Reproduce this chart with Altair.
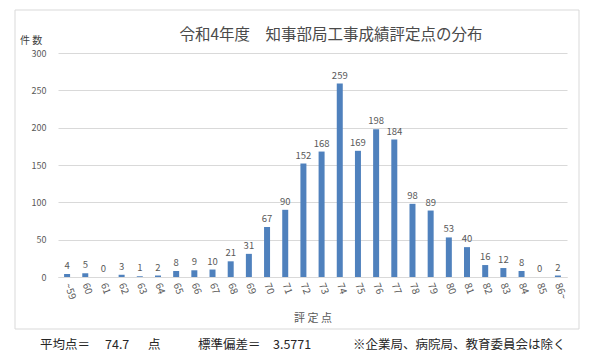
import altair as alt
import pandas as pd

categories = ["~59", "60", "61", "62", "63", "64", "65", "66", "67", "68", "69", "70",
              "71", "72", "73", "74", "75", "76", "77", "78", "79", "80", "81", "82",
              "83", "84", "85", "86~"]
counts = [4, 5, 0, 3, 1, 2, 8, 9, 10, 21, 31, 67, 90, 152, 168, 259, 169, 198, 184,
          98, 89, 53, 40, 16, 12, 8, 0, 2]
y_ticks = [0, 50, 100, 150, 200, 250, 300]

title_text = "令和4年度　知事部局工事成績評定点の分布"
y_title = "件 数"
x_title = "評 定 点"
footer_texts = ["平均点＝", "74.7", "点", "標準偏差＝", "3.5771",
                "※企業局、病院局、教育委員会は除く"]
footer_x = [-18, 47, 90, 140, 215, 295]

df = pd.DataFrame({"cat": categories, "n": counts})
FONT = "Noto Sans CJK JP"
GRAY = "#595959"

W, H = 509, 224
y_axis = alt.Axis(title=None, values=y_ticks, labelFontSize=9,
                  labelColor=GRAY, labelFont=FONT, domain=False, ticks=False,
                  gridColor="#d9d9d9", labelPadding=12)
x_axis = alt.Axis(title=x_title, labelAngle=70, labelAlign="left",
                  labelBaseline="middle", labelFontSize=10, labelColor=GRAY,
                  labelFont=FONT, titleFont=FONT, titleFontSize=11,
                  titleColor=GRAY, titleFontWeight="normal", titlePadding=12,
                  domainColor="#d9d9d9", ticks=False, labelPadding=6)
x_enc = alt.X("cat:N", sort=categories,
              scale=alt.Scale(paddingInner=0, paddingOuter=0), axis=x_axis)
y_enc = alt.Y("n:Q", scale=alt.Scale(domain=[0, 300]), axis=y_axis)

bars = alt.Chart(df).mark_bar(size=6, color="#4f81bd").encode(x=x_enc, y=y_enc)
labels = alt.Chart(df).mark_text(dy=-8, fontSize=9.5, color=GRAY, font=FONT).encode(
    x=x_enc, y=y_enc, text="n:Q")

box = alt.Chart(pd.DataFrame({"a": [0]})).mark_rect(
    fill=None, stroke="#d9d9d9", strokeWidth=1).encode(
    x=alt.value(-43), x2=alt.value(521), y=alt.value(-43), y2=alt.value(276))

title = alt.Chart(pd.DataFrame({"t": [title_text]})).mark_text(
    fontSize=15.5, color="#4a4a4a", font=FONT).encode(
    text="t:N", x=alt.value(273), y=alt.value(-18))
ytitle = alt.Chart(pd.DataFrame({"t": [y_title]})).mark_text(
    fontSize=10, color="#404040", font=FONT, align="left").encode(
    text="t:N", x=alt.value(-38), y=alt.value(-12))

fdf = pd.DataFrame({"t": footer_texts, "px": footer_x})
foot = alt.Chart(fdf).mark_text(fontSize=12.5, color="#262626", font=FONT,
                                align="left").encode(
    text="t:N", x=alt.X("px:Q", scale=None), y=alt.value(292))

chart = alt.layer(box, bars, labels, title, ytitle, foot).properties(
    width=W, height=H,
    autosize=alt.AutoSizeParams(type="none"),
    padding={"left": 50, "top": 45, "right": 25, "bottom": 86},
).configure_view(stroke=None)

chart.save("out.html", embed_options={"renderer": "svg", "actions": False})
